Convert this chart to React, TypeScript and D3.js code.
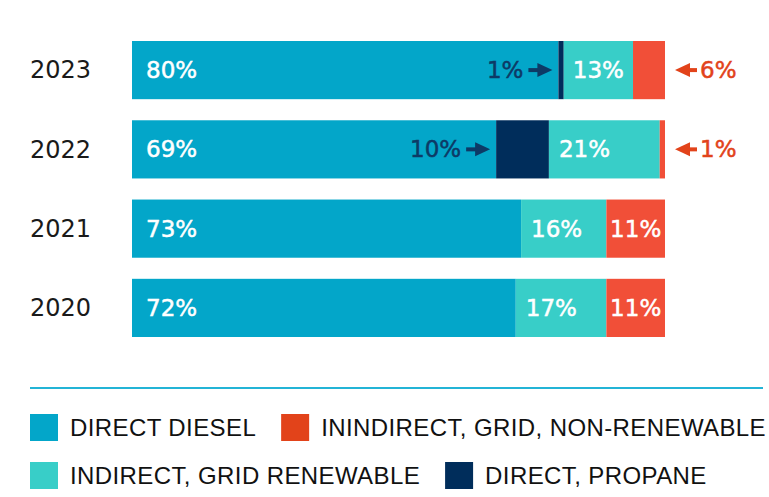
import React, { useEffect, useRef } from "react";
import * as d3 from "d3";

const years = ["2023", "2022", "2021", "2020"];
const seriesKeys = ["diesel", "propane", "renewable", "nonrenewable"];
const seriesNames = [
  "DIRECT DIESEL",
  "DIRECT, PROPANE",
  "INDIRECT, GRID RENEWABLE",
  "ININDIRECT, GRID, NON-RENEWABLE",
];
const diesel = [80, 69, 73, 72];
const propane = [1, 10, 0, 0];
const renewable = [13, 21, 16, 17];
const nonrenewable = [6, 1, 11, 11];

const barColors: Record<string, string> = {
  diesel: "#03a6c9",
  propane: "#002d5b",
  renewable: "#38cec8",
  nonrenewable: "#f14f38",
};
const legendColors: Record<string, string> = {
  diesel: "#03a6c9",
  propane: "#002d5b",
  renewable: "#38cec8",
  nonrenewable: "#e2431a",
};
const legendOrder = [
  ["diesel", "nonrenewable"],
  ["renewable", "propane"],
];

const W = 769;
const H = 497;

export default function App() {
  const ref = useRef<SVGSVGElement | null>(null);

  useEffect(() => {
    document.body.style.margin = "0";
    const svg = d3.select(ref.current);
    svg.selectAll("*").remove();

    const valuesBy: Record<string, number[]> = { diesel, propane, renewable, nonrenewable };

    const y = d3.scaleBand<string>().domain(years).range([41, 337]).paddingInner(0.266).paddingOuter(0);
    const barFont = "'DejaVu Sans', sans-serif";

    // year labels
    svg
      .selectAll("text.year")
      .data(years)
      .join("text")
      .attr("class", "year")
      .attr("x", 30)
      .attr("y", (d) => (y(d) as number) + y.bandwidth() / 2)
      .attr("dy", "0.35em")
      .attr("font-family", barFont)
      .attr("font-size", 24)
      .attr("fill", "#1a1a1a")
      .text((d) => d);

    const addLabel = (g: any, col: string) =>
      g
        .append("text")
        .attr("dy", "0.35em")
        .attr("font-family", barFont)
        .attr("font-size", 23)
        .attr("fill", col)
        .attr("stroke", col)
        .attr("stroke-width", 0.5);

    years.forEach((yr, i) => {
      const vals = seriesKeys.map((k) => valuesBy[k][i]);
      const total = d3.sum(vals);
      const x = d3.scaleLinear().domain([0, total]).range([132, 665]);
      const by = y(yr) as number;
      const bh = y.bandwidth();
      const cy = by + bh / 2;
      const g = svg.append("g");
      let acc = 0;
      seriesKeys.forEach((k, j) => {
        const v = vals[j];
        const x0 = x(acc);
        const x1 = x(acc + v);
        acc += v;
        if (v <= 0) return;
        g.append("rect")
          .attr("x", x0)
          .attr("y", by)
          .attr("width", x1 - x0)
          .attr("height", bh)
          .attr("fill", barColors[k]);
        const label = `${v}%`;
        if (v >= 11) {
          const t = addLabel(g, "#ffffff").attr("y", cy).text(label);
          const tw = (t.node() as SVGTextElement).getComputedTextLength();
          const segW = x1 - x0;
          const pad = j === 0 ? 14 : 10;
          if (segW - 2 * pad >= tw) t.attr("x", x0 + pad);
          else t.attr("x", x0 + (segW - tw) / 2);
        } else if (k === "propane") {
          const col = "#0d3a66";
          const tip = x0 - 6;
          const tail = tip - 24;
          g.append("line")
            .attr("x1", tail)
            .attr("x2", tip - 10)
            .attr("y1", cy)
            .attr("y2", cy)
            .attr("stroke", col)
            .attr("stroke-width", 4);
          g.append("path")
            .attr("d", `M${tip},${cy}L${tip - 15},${cy - 7}L${tip - 15},${cy + 7}Z`)
            .attr("fill", col);
          addLabel(g, col)
            .attr("x", tail - 5)
            .attr("y", cy)
            .attr("text-anchor", "end")
            .text(label);
        } else {
          const col = "#e2431a";
          const tip = x.range()[1] + 10;
          const tail = tip + 22;
          g.append("line")
            .attr("x1", tip + 10)
            .attr("x2", tail)
            .attr("y1", cy)
            .attr("y2", cy)
            .attr("stroke", col)
            .attr("stroke-width", 4);
          g.append("path")
            .attr("d", `M${tip},${cy}L${tip + 15},${cy - 7}L${tip + 15},${cy + 7}Z`)
            .attr("fill", col);
          addLabel(g, col)
            .attr("x", tail + 3)
            .attr("y", cy)
            .text(label);
        }
      });
    });

    // separator
    svg
      .append("line")
      .attr("x1", 30)
      .attr("x2", 763)
      .attr("y1", 388)
      .attr("y2", 388)
      .attr("stroke", "#23b4d6")
      .attr("stroke-width", 2);

    // legend
    const rowY = [414, 462];
    legendOrder.forEach((row, ri) => {
      let lx = 30;
      row.forEach((k) => {
        const idx = seriesKeys.indexOf(k);
        svg
          .append("rect")
          .attr("x", lx)
          .attr("y", rowY[ri])
          .attr("width", 28)
          .attr("height", 27)
          .attr("fill", legendColors[k]);
        const t = svg
          .append("text")
          .attr("x", lx + 40)
          .attr("y", rowY[ri] + 13.5)
          .attr("dy", "0.35em")
          .attr("font-family", "'Liberation Sans', Arial, sans-serif")
          .attr("font-size", 24)
          .attr("letter-spacing", 0.4)
          .attr("fill", "#111")
          .text(seriesNames[idx]);
        const tw = (t.node() as SVGTextElement).getComputedTextLength();
        lx = lx + 40 + tw + 25;
      });
    });
  }, []);

  return (
    <svg
      ref={ref}
      width={W}
      height={H}
      style={{ position: "absolute", left: 0, top: 0, background: "#fff" }}
    />
  );
}
